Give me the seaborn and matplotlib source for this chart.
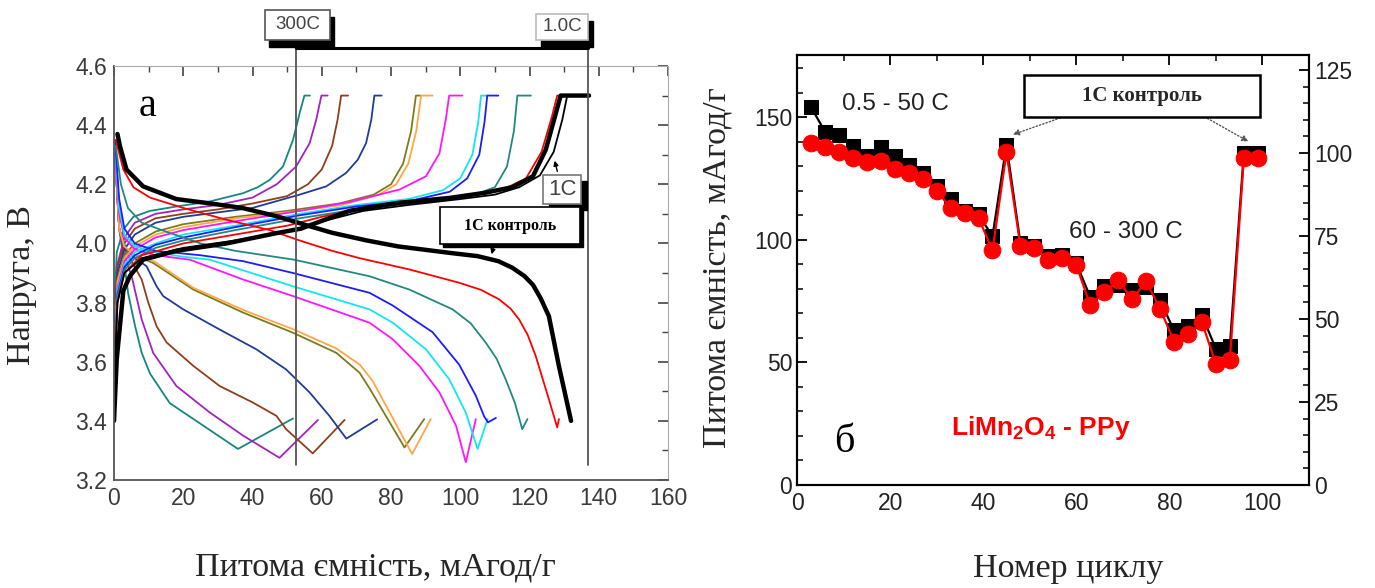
import numpy as np
import pandas as pd
import matplotlib
matplotlib.use("Agg")
import matplotlib.pyplot as plt
from matplotlib.patches import Rectangle
from matplotlib.ticker import MultipleLocator
import seaborn as sns

sns.set_style("white")
plt.rcParams['font.family'] = ['Liberation Sans', 'DejaVu Sans']
plt.rcParams['mathtext.fontset'] = 'custom'
plt.rcParams['mathtext.rm'] = 'Liberation Sans'
plt.rcParams['mathtext.bf'] = 'Liberation Sans:bold'
SERIF = ['Liberation Serif', 'DejaVu Serif']

# ---------------- Panel (a): charge / discharge curves ----------------
teal_dis_q = [0.3, 1.5, 3.0, 4.1, 6.1, 8.0, 10.4, 16.1, 35.8, 51.7]
teal_dis_v = [4.30, 4.05, 3.93, 3.83, 3.72, 3.63, 3.56, 3.46, 3.305, 3.408]
teal_chg_q = [0, 0.8, 2.7, 5.6, 10.4, 18.1, 27.7, 37.3, 41.5, 45.0, 48.8, 51.7, 53.6, 55.0, 56.6]
teal_chg_v = [3.75, 3.97, 4.047, 4.09, 4.11, 4.125, 4.142, 4.17, 4.19, 4.215, 4.26, 4.35, 4.44, 4.50, 4.50]

purple_dis_q = [0.3, 1.5, 3.0, 5.1, 8.0, 11.3, 18.0, 27.7, 37.3, 47.8, 58.9]
purple_dis_v = [4.30, 4.05, 3.96, 3.889, 3.743, 3.63, 3.518, 3.428, 3.35, 3.275, 3.403]
purple_chg_q = [0, 1.0, 3.0, 6.0, 12, 20, 30, 40, 47, 52.6, 56.5, 58.4, 59.9, 61.7]
purple_chg_v = [3.70, 3.93, 4.02, 4.07, 4.10, 4.115, 4.13, 4.155, 4.20, 4.26, 4.339, 4.418, 4.50, 4.50]

brown_dis_q = [0.3, 1.5, 3.5, 6.0, 8.0, 9.9, 12.3, 15.2, 22.9, 30.5, 40.1, 46.9, 49.7, 57.4, 66.6]
brown_dis_v = [4.30, 4.05, 3.97, 3.92, 3.878, 3.80, 3.72, 3.665, 3.586, 3.518, 3.462, 3.417, 3.372, 3.29, 3.403]
brown_chg_q = [0, 1.0, 3.0, 6.0, 12, 20, 30, 40, 50, 56, 60, 63, 64.6, 65.6, 67.6]
brown_chg_v = [3.70, 3.92, 4.00, 4.05, 4.085, 4.10, 4.115, 4.135, 4.16, 4.20, 4.25, 4.33, 4.42, 4.50, 4.50]

navy_dis_q = [0.3, 1.5, 3.5, 6.0, 9.4, 12.3, 14.2, 20.0, 30.5, 41.1, 49.7, 56.5, 62.2, 67.1, 76.0]
navy_dis_v = [4.30, 4.05, 3.98, 3.95, 3.923, 3.855, 3.822, 3.777, 3.709, 3.642, 3.574, 3.496, 3.417, 3.34, 3.405]
navy_chg_q = [0, 1.0, 3.0, 6.0, 12, 20, 30, 40, 53.6, 61.3, 67.0, 70.4, 72.8, 74.3, 75.2, 77.3]
navy_chg_v = [3.65, 3.90, 3.98, 4.03, 4.07, 4.09, 4.105, 4.12, 4.165, 4.193, 4.238, 4.283, 4.339, 4.418, 4.50, 4.50]

olive_dis_q = [0.3, 1.5, 3.0, 6.0, 11.3, 22.9, 37.3, 51.7, 64.2, 70.9, 73.8, 83.9, 89.6]
olive_dis_v = [4.30, 4.05, 3.99, 3.96, 3.934, 3.844, 3.766, 3.698, 3.63, 3.563, 3.51, 3.31, 3.406]
olive_chg_q = [0, 1.0, 3.0, 6.0, 12, 20, 35, 50, 65, 75, 80, 83.5, 85.8, 87.2, 88.5]
olive_chg_v = [3.60, 3.88, 3.96, 4.00, 4.04, 4.065, 4.09, 4.11, 4.135, 4.165, 4.20, 4.27, 4.38, 4.50, 4.50]

orange_dis_q = [0.3, 1.5, 3.0, 6.0, 11.5, 22.9, 37.3, 51.7, 64.2, 71.0, 74.7, 86.1, 91.5]
orange_dis_v = [4.30, 4.05, 3.99, 3.96, 3.94, 3.85, 3.775, 3.71, 3.645, 3.59, 3.535, 3.288, 3.406]
orange_chg_q = [0, 1.0, 3.0, 6.0, 12, 20, 35, 50, 66, 76.5, 81.5, 85.0, 87.3, 88.7, 92.0]
orange_chg_v = [3.60, 3.87, 3.95, 3.99, 4.03, 4.055, 4.085, 4.105, 4.13, 4.165, 4.20, 4.27, 4.38, 4.50, 4.50]

magenta_dis_q = [0.3, 1.5, 3.0, 6.0, 12, 21.9, 37.3, 51.7, 73.8, 80.5, 88.2, 94.0, 98.8, 101.6, 104.5]
magenta_dis_v = [4.30, 4.10, 4.02, 3.98, 3.96, 3.945, 3.878, 3.822, 3.732, 3.676, 3.586, 3.496, 3.383, 3.26, 3.406]
magenta_chg_q = [0, 1.0, 3.0, 6.0, 12, 20, 35, 53.6, 68, 82.4, 90.1, 94.0, 95.8, 96.8, 100.6]
magenta_chg_v = [3.55, 3.85, 3.94, 3.98, 4.02, 4.045, 4.075, 4.11, 4.14, 4.182, 4.227, 4.305, 4.418, 4.50, 4.50]

cyan_dis_q = [0.3, 1.5, 3.0, 6.0, 12, 20, 27.7, 51.7, 73.8, 80.5, 90.1, 96.8, 101.6, 105.0, 107.9]
cyan_dis_v = [4.33, 4.12, 4.03, 3.99, 3.97, 3.955, 3.945, 3.855, 3.777, 3.732, 3.642, 3.541, 3.428, 3.305, 3.406]
cyan_chg_q = [0, 1.0, 3.0, 6.0, 12, 20, 35, 53.6, 70, 85, 95, 100, 103.5, 105.2, 106.0, 107.8]
cyan_chg_v = [3.55, 3.84, 3.93, 3.97, 4.00, 4.03, 4.06, 4.10, 4.13, 4.15, 4.18, 4.22, 4.30, 4.41, 4.50, 4.50]

blue_dis_q = [0.3, 1.5, 3.0, 6.0, 12, 25, 37.3, 51.7, 73.8, 80.5, 92.0, 99.7, 104.5, 106.9, 108.0, 110.3]
blue_dis_v = [4.35, 4.15, 4.05, 4.00, 3.975, 3.96, 3.94, 3.90, 3.833, 3.79, 3.70, 3.59, 3.485, 3.415, 3.395, 3.41]
blue_chg_q = [0, 1.0, 3.0, 6.0, 12, 20, 35, 53.6, 70, 86, 97, 102, 105.5, 107.0, 107.8, 111.0]
blue_chg_v = [3.55, 3.83, 3.92, 3.96, 3.995, 4.02, 4.055, 4.095, 4.125, 4.145, 4.175, 4.22, 4.30, 4.41, 4.50, 4.50]

teal2_dis_q = [0.5, 2.0, 4.0, 8.0, 15, 25, 35, 52, 73.8, 85.3, 97.8, 103, 107.4, 110.5, 113.1, 115.8, 117.9, 119.4]
teal2_dis_v = [4.33, 4.20, 4.12, 4.07, 4.04, 4.00, 3.975, 3.945, 3.889, 3.844, 3.777, 3.73, 3.664, 3.61, 3.541, 3.46, 3.372, 3.406]
teal2_chg_q = [0, 1.0, 3.0, 6.0, 12, 20, 35, 53.6, 70, 90, 103, 110, 113.5, 115.5, 116.5, 120.4]
teal2_chg_v = [3.55, 3.82, 3.91, 3.95, 3.985, 4.01, 4.045, 4.085, 4.115, 4.14, 4.16, 4.19, 4.26, 4.38, 4.50, 4.50]

red_dis_q = [0.5, 2.7, 5.6, 10.4, 20, 32.5, 45, 53.6, 63, 71, 85.3, 99.7, 106, 111.2, 114.5, 117.0, 119.5, 121.8, 125.6, 128.0, 128.5]
red_dis_v = [4.35, 4.25, 4.19, 4.155, 4.12, 4.08, 4.045, 4.01, 3.975, 3.95, 3.912, 3.867, 3.843, 3.811, 3.78, 3.743, 3.69, 3.619, 3.473, 3.378, 3.406]
red_chg_q = [0, 1.0, 3.0, 8.0, 20, 35, 50, 60, 70, 85, 100, 112, 119, 123.5, 126.5, 128.0, 129.5]
red_chg_v = [3.55, 3.80, 3.90, 3.96, 4.00, 4.03, 4.06, 4.09, 4.115, 4.14, 4.16, 4.18, 4.22, 4.31, 4.43, 4.50, 4.50]

thin1c_chg_q = [0, 1.0, 3.0, 8, 20, 35, 50, 62, 72, 85, 100, 110, 117, 123, 127, 129.5, 130.9]
thin1c_chg_v = [3.50, 3.80, 3.90, 3.95, 3.985, 4.01, 4.04, 4.08, 4.11, 4.13, 4.15, 4.165, 4.19, 4.23, 4.31, 4.42, 4.50]

ctrl_dis_q = [1.0, 1.7, 3.6, 8.4, 18, 28, 37, 47, 56, 63, 73, 82, 97, 105, 111, 115, 118.5, 121, 123.2, 125.6, 128.5, 132.0]
ctrl_dis_v = [4.37, 4.33, 4.25, 4.193, 4.15, 4.135, 4.12, 4.092, 4.06, 4.036, 4.01, 3.99, 3.968, 3.957, 3.94, 3.918, 3.89, 3.86, 3.815, 3.754, 3.585, 3.40]
ctrl_chg_q = [0, 0.8, 2.7, 4.6, 8.4, 18, 32.5, 47, 54, 62, 68, 73, 82, 97, 107, 115, 121, 124.7, 127.6, 129.0, 137.2]
ctrl_chg_v = [3.40, 3.61, 3.84, 3.89, 3.945, 3.975, 4.00, 4.035, 4.05, 4.085, 4.11, 4.12, 4.137, 4.154, 4.171, 4.19, 4.227, 4.317, 4.44, 4.50, 4.50]

curve_colors = {
    "teal": "#14877f", "purple": "#a224be", "brown": "#8e3f1c", "navy": "#1f3d98",
    "olive": "#7f7a1c", "orange": "#ffa646", "magenta": "#ff14ff", "cyan": "#12e6f0",
    "blue": "#1c1cff", "teal2": "#218a80", "red": "#ff0000", "thin1c": "#000000",
}
thin_curves = [
    ("teal", teal_dis_q, teal_dis_v, teal_chg_q, teal_chg_v),
    ("purple", purple_dis_q, purple_dis_v, purple_chg_q, purple_chg_v),
    ("brown", brown_dis_q, brown_dis_v, brown_chg_q, brown_chg_v),
    ("navy", navy_dis_q, navy_dis_v, navy_chg_q, navy_chg_v),
    ("olive", olive_dis_q, olive_dis_v, olive_chg_q, olive_chg_v),
    ("orange", orange_dis_q, orange_dis_v, orange_chg_q, orange_chg_v),
    ("magenta", magenta_dis_q, magenta_dis_v, magenta_chg_q, magenta_chg_v),
    ("cyan", cyan_dis_q, cyan_dis_v, cyan_chg_q, cyan_chg_v),
    ("blue", blue_dis_q, blue_dis_v, blue_chg_q, blue_chg_v),
    ("teal2", teal2_dis_q, teal2_dis_v, teal2_chg_q, teal2_chg_v),
    ("red", red_dis_q, red_dis_v, red_chg_q, red_chg_v),
]

rows = []
palette = {}
for name, dq, dv, cq, cv in thin_curves:
    for q, v in zip(dq, dv):
        rows.append((name + "_dis", q, v))
    for q, v in zip(cq, cv):
        rows.append((name + "_chg", q, v))
    palette[name + "_dis"] = curve_colors[name]
    palette[name + "_chg"] = curve_colors[name]
for q, v in zip(thin1c_chg_q, thin1c_chg_v):
    rows.append(("thin1c_chg", q, v))
palette["thin1c_chg"] = "#000000"
df_thin = pd.DataFrame(rows, columns=["curve", "q", "v"])

rows = []
for q, v in zip(ctrl_dis_q, ctrl_dis_v):
    rows.append(("ctrl_dis", q, v))
for q, v in zip(ctrl_chg_q, ctrl_chg_v):
    rows.append(("ctrl_chg", q, v))
df_ctrl = pd.DataFrame(rows, columns=["curve", "q", "v"])

# ---------------- Panel (б): cycling ----------------
cycles = [3, 6, 9, 12, 15, 18, 21, 24, 27, 30, 33, 36, 39, 42, 45, 48, 51, 54, 57, 60,
          63, 66, 69, 72, 75, 78, 81, 84, 87, 90, 93, 96, 99]
black_cap = [154.1, 144.1, 142.5, 138.4, 134.2, 137.7, 134.2, 130.5, 127.1, 121.9, 116.4, 111.6, 110.3,
             101.4, 138.6, 98.6, 97.3, 93.2, 93.8, 90.4,
             76.7, 81.1, 81.5, 79.5, 80.8, 75.3, 63.0, 65.0, 69.2, 55.5, 56.8, 135.3, 135.3]
red_cap = [139.5, 137.9, 135.9, 133.2, 131.5, 132.2, 128.8, 127.1, 124.7, 119.9, 113.0, 111.0, 108.9,
           95.6, 135.6, 97.5, 96.6, 91.8, 92.7, 89.7,
           73.3, 78.5, 83.5, 75.8, 83.0, 71.9, 58.5, 61.4, 66.4, 49.3, 51.1, 133.2, 133.2]

fig = plt.figure(figsize=(13.75, 5.88), dpi=100)
W, H = 1375, 588

# ---- left axes ----
axL = fig.add_axes([114 / W, 1 - 480 / H, (668 - 114) / W, (480 - 66) / H])
sns.lineplot(data=df_thin, x="q", y="v", hue="curve", palette=palette, sort=False,
             estimator=None, legend=False, linewidth=1.3, ax=axL)
sns.lineplot(data=df_ctrl, x="q", y="v", units="curve", color="black", sort=False,
             estimator=None, legend=False, linewidth=3.2, ax=axL)
axL.set_xlim(0, 160)
axL.set_ylim(3.2, 4.6)
axL.xaxis.set_major_locator(MultipleLocator(20))
axL.xaxis.set_minor_locator(MultipleLocator(10))
axL.yaxis.set_major_locator(MultipleLocator(0.2))
axL.yaxis.set_minor_locator(MultipleLocator(0.1))
axL.xaxis.set_major_formatter(matplotlib.ticker.FormatStrFormatter("%d"))
axL.yaxis.set_major_formatter(matplotlib.ticker.FormatStrFormatter("%.1f"))
axL.tick_params(which="both", direction="in", top=True, right=True, colors="#444",
                labelcolor="#3a3a3a", labelsize=16.5)
axL.tick_params(which="major", length=7, width=1.2)
axL.tick_params(which="minor", length=4, width=1.0)
axL.tick_params(axis="x", pad=5)
axL.tick_params(axis="y", pad=5)
for s in ["top", "right"]:
    axL.spines[s].set_color("#aaaaaa")
for s in ["left", "bottom"]:
    axL.spines[s].set_color("#555555")
    axL.spines[s].set_linewidth(1.3)
axL.set_xlabel("")
axL.set_ylabel("")

# vertical marker lines and top bracket
for xv in (52.5, 137.0):
    axL.plot([xv, xv], [3.25, 4.662], color="#555555", lw=1.3, clip_on=False, zorder=5)
axL.plot([52.5, 137.0], [4.662, 4.662], color="black", lw=2.2, clip_on=False, zorder=5)

def px2L(px, py):
    return (px - 114) / 3.4625, 4.6 - (py - 66) / 295.7

def box_L(px0, py0, px1, py1, text, fs, dx, dy, fam=None, weight="normal", tcolor="#444", ec="#777"):
    x0, y1 = px2L(px0, py0)
    x1, y0 = px2L(px1, py1)
    sx0, sy1 = px2L(px0 + dx, py0 + dy)
    axL.add_patch(Rectangle((sx0, sy1 - (y1 - y0)), x1 - x0, y1 - y0, fc="black", ec="black",
                            clip_on=False, zorder=8))
    axL.add_patch(Rectangle((x0, y0), x1 - x0, y1 - y0, fc="white", ec=ec, lw=1.2,
                            clip_on=False, zorder=9))
    kw = dict(ha="center", va="center", fontsize=fs, color=tcolor, zorder=10, clip_on=False,
              fontweight=weight)
    if fam:
        kw["family"] = fam
    axL.text((x0 + x1) / 2, (y0 + y1) / 2, text, **kw)

box_L(265, 10, 330, 40, "300C", 13.5, 4, 7, ec="#555")
box_L(536, 14, 588, 40, "1.0C", 13.5, 5, 7, ec="#bbbbbb")
box_L(543, 175, 581, 204, "1C", 16, 6, 6)
box_L(440, 207, 580, 244, "1C контроль", 11.5, 3, 3, fam=SERIF, weight="bold", tcolor="black", ec="black")

# small arrows to curves
axL.annotate("", xy=px2L(491, 257), xytext=px2L(494, 245),
             arrowprops=dict(arrowstyle="-|>", color="black", lw=1.0, mutation_scale=7), zorder=7)
axL.annotate("", xy=px2L(554, 158), xytext=px2L(558, 174),
             arrowprops=dict(arrowstyle="-|>", color="black", lw=1.0, mutation_scale=7), zorder=7)

axL.text(*px2L(148, 106), "а", fontsize=29, family=SERIF, ha="center", va="center", color="black")

# ---- right axes ----
axR = fig.add_axes([797 / W, 1 - 485 / H, (1309 - 797) / W, (485 - 55) / H])
sns.lineplot(x=cycles, y=black_cap, color="black", marker="s", markersize=10.5,
             markeredgecolor="black", linewidth=1.6, ax=axR, zorder=3)
sns.lineplot(x=cycles, y=red_cap, color="#ff0000", marker="o", markersize=12,
             markeredgecolor="#ff0000", linewidth=1.6, ax=axR, zorder=4)
axR.set_xlim(0, 110)
axR.set_ylim(0, 175.3)
axR.xaxis.set_major_locator(MultipleLocator(20))
axR.xaxis.set_minor_locator(MultipleLocator(10))
axR.yaxis.set_major_locator(MultipleLocator(50))
axR.yaxis.set_minor_locator(MultipleLocator(10))
axR.tick_params(which="both", direction="in", top=True, colors="black", labelcolor="#222",
                labelsize=16.5)
axR.tick_params(which="major", length=7, width=1.3)
axR.tick_params(which="minor", length=4, width=1.1)
axR.tick_params(axis="x", pad=5)
for s in axR.spines.values():
    s.set_color("black")
    s.set_linewidth(1.5)
axR.set_xlabel("")
axR.set_ylabel("")

ax2 = axR.twinx()
ax2.set_ylim(0, 129.5)
ax2.yaxis.set_major_locator(MultipleLocator(25))
ax2.yaxis.set_minor_locator(MultipleLocator(5))
ax2.tick_params(which="both", direction="in", colors="black", labelcolor="#222", labelsize=16.5)
ax2.tick_params(which="major", length=7, width=1.3)
ax2.tick_params(which="minor", length=4, width=1.1)
for s in ax2.spines.values():
    s.set_color("black")
    s.set_linewidth(1.5)

def px2R(px, py):
    return (px - 797) / 4.655, (485 - py) / 2.453

x0, y1 = px2R(1024, 75)
x1, y0 = px2R(1260, 117)
axR.add_patch(Rectangle((x0, y0), x1 - x0, y1 - y0, fc="white", ec="black", lw=1.8, zorder=6))
axR.text((x0 + x1) / 2, (y0 + y1) / 2, "1C контроль", family=SERIF, fontweight="bold",
         fontsize=15, ha="center", va="center", zorder=7)
axR.annotate("", xy=(45.8, 142.5), xytext=px2R(1063, 117),
             arrowprops=dict(arrowstyle="-|>", color="#555", lw=1.0, ls=(0, (1, 1.5)),
                             mutation_scale=9), zorder=5)
axR.annotate("", xy=(97.5, 139.5), xytext=px2R(1205, 117),
             arrowprops=dict(arrowstyle="-|>", color="#555", lw=1.0, ls=(0, (1, 1.5)),
                             mutation_scale=9), zorder=5)

axR.text(*px2R(842, 104), "0.5 - 50 C", fontsize=17.5, ha="left", va="center", color="#222")
axR.text(*px2R(1069, 232), "60 - 300 C", fontsize=17.5, ha="left", va="center", color="#222")
axR.text(*px2R(844, 442), "б", fontsize=29, family=SERIF, ha="center", va="center", color="black")
axR.text(*px2R(951, 428), r"$\mathbf{LiMn_2O_4}$" + " - PPy", fontsize=19, fontweight="bold",
         ha="left", va="center", color="#ff0000")

# ---- axis labels ----
fig.text(375 / W, 1 - 567 / H, "Питома ємність, мАгод/г", family=SERIF, fontsize=24.5,
         ha="center", va="center")
fig.text(22 / W, 1 - 285 / H, "Напруга, В", family=SERIF, fontsize=24.5, rotation=90,
         ha="center", va="center")
fig.text(1068 / W, 1 - 569 / H, "Номер циклу", family=SERIF, fontsize=24.5,
         ha="center", va="center")
fig.text(717 / W, 1 - 268 / H, "Питома ємність, мАгод/г", family=SERIF, fontsize=24.5, rotation=90,
         ha="center", va="center")

fig.savefig("out.png", dpi=100)
